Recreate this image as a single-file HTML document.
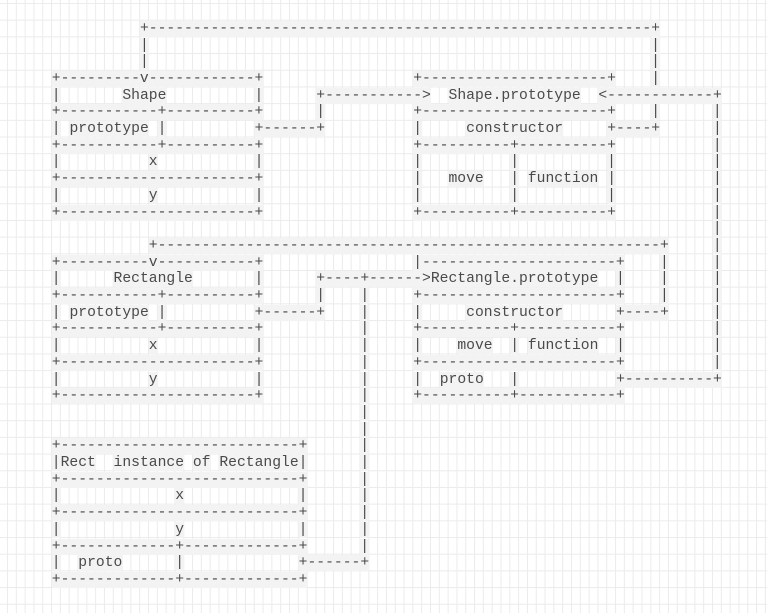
<!DOCTYPE html>
<html><head><meta charset="utf-8"><style>
html,body{margin:0;padding:0;}
body{width:767px;height:613px;overflow:hidden;background-color:#fff;
background-image:linear-gradient(to right,#ebebeb 1px,transparent 1px),linear-gradient(to bottom,#ebebeb 1px,transparent 1px);
background-size:8.82px 16.7px;background-position:7px 3px;position:relative;}
pre{position:absolute;left:51.8px;top:20.8px;margin:0;font-family:"Liberation Mono","DejaVu Sans Mono",monospace;font-size:14.7px;line-height:16.7px;color:#4a4a4a;}
pre span.f{background:#f3f3f3;}
</style></head><body>
<pre id="d">          +---------------------------------------------------------+
          |                                                         |
          |                                                         |
+---------v------------+                 +---------------------+    |
|       Shape          |      +----------->  Shape.prototype  <------------+
+-----------+----------+      |          +---------------------+    |      |
| prototype |          +------+          |     constructor     +----+      |
+-----------+----------+                 +----------+----------+           |
|          x           |                 |          |          |           |
+----------------------+                 |   move   | function |           |
|          y           |                 |          |          |           |
+----------------------+                 +----------+----------+           |
                                                                           |
           +---------------------------------------------------------+     |
+----------v-----------+                 |----------------------+    |     |
|      Rectangle       |      +----+------>Rectangle.prototype  |    |     |
+-----------+----------+      |    |     +----------------------+    |     |
| prototype |          +------+    |     |     constructor      +----+     |
+-----------+----------+           |     +----------+-----------+          |
|          x           |           |     |    move  | function  |          |
+----------------------+           |     +----------------------+          |
|          y           |           |     |  proto   |           +----------+
+----------------------+           |     +----------+-----------+
                                   |
                                   |
+---------------------------+      |
|Rect  instance of Rectangle|      |
+---------------------------+      |
|             x             |      |
+---------------------------+      |
|             y             |      |
+-------------+-------------+      |
|  proto      |             +------+
+-------------+-------------+</pre>
<script>
(function(){var p=document.getElementById('d');var t=p.textContent;var h=t.replace(/&/g,'&amp;').replace(/</g,'&lt;').replace(/>/g,'&gt;').replace(/([^ \n]+)/g,'<span class="f">$1</span>');p.innerHTML=h;})();
</script>
</body></html>
